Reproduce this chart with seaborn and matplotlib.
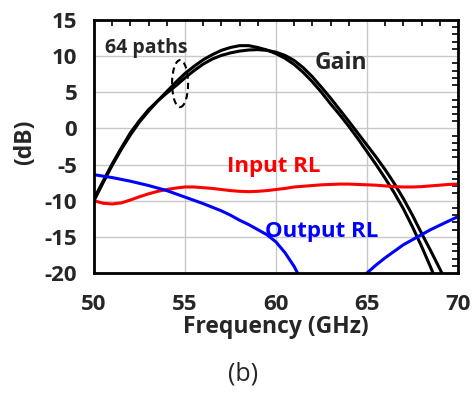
import numpy as np
import pandas as pd
import matplotlib
matplotlib.use('Agg')
import matplotlib.pyplot as plt
from matplotlib.patches import Ellipse
from matplotlib.ticker import MultipleLocator
import seaborn as sns

# frequency grid for the gain traces (GHz)
freq = [50, 50.5, 51, 51.5, 52, 52.5, 53, 53.5, 54, 54.5, 55, 55.5, 56, 56.5,
        57, 57.5, 58, 58.5, 59, 59.5, 60, 60.5, 61, 61.5, 62, 62.5, 63, 63.5,
        64, 64.5, 65, 65.5, 66, 66.5, 67, 67.5, 68, 68.5, 69, 69.5, 70]

# two gain traces standing in for the 64 paths (dB)
gain_a = [-10.0, -7.5, -5.1, -2.9, -0.9, 0.9, 2.4, 3.8, 5.1, 6.4, 7.6, 8.6,
          9.5, 10.2, 10.8, 11.2, 11.45, 11.45, 11.2, 10.85, 10.35, 9.7, 8.85,
          7.75, 6.45, 5.0, 3.4, 1.9, 0.3, -1.4, -3.2, -5.0, -6.9, -8.9, -11.1,
          -13.6, -16.3, -19.2, -22.3, -25.5, -28.8]
gain_b = [-9.7, -7.3, -4.9, -2.7, -0.6, 1.1, 2.6, 3.8, 4.9, 5.9, 7.0, 8.0,
          8.9, 9.6, 10.1, 10.45, 10.7, 10.85, 10.9, 10.8, 10.55, 10.1, 9.4,
          8.4, 7.15, 5.7, 4.2, 2.6, 1.0, -0.65, -2.3, -3.95, -5.7, -7.6, -9.7,
          -12.0, -14.5, -16.9, -19.4, -22.0, -24.6]

# input return loss (dB)
in_freq = [50, 50.5, 51, 51.5, 52, 52.5, 53, 53.5, 54, 54.5, 55, 55.5, 56,
           56.5, 57, 57.5, 58, 58.5, 59, 59.5, 60, 60.5, 61, 61.5, 62, 62.5,
           63, 63.5, 64, 64.5, 65, 65.5, 66, 66.5, 67, 67.5, 68, 68.5, 69,
           69.5, 70]
in_rl = [-10.0, -10.35, -10.45, -10.3, -9.9, -9.45, -9.05, -8.7, -8.45, -8.25,
         -8.1, -8.1, -8.2, -8.3, -8.45, -8.6, -8.7, -8.75, -8.7, -8.6, -8.45,
         -8.3, -8.1, -8.0, -7.9, -7.8, -7.75, -7.7, -7.7, -7.75, -7.8, -7.85,
         -7.95, -8.05, -8.1, -8.1, -8.05, -7.95, -7.85, -7.75, -7.7]

# output return loss (dB), two visible branches
out_freq_lo = [50, 50.5, 51, 51.5, 52, 52.5, 53, 53.5, 54, 54.5, 55, 55.5, 56,
               56.5, 57, 57.5, 58, 58.5, 59, 59.5, 60, 60.5, 61, 61.5]
out_rl_lo = [-6.4, -6.6, -6.8, -7.05, -7.3, -7.6, -7.9, -8.25, -8.6, -9.05,
             -9.5, -9.95, -10.4, -10.9, -11.4, -12.0, -12.7, -13.3, -14.0,
             -14.7, -15.7, -17.2, -19.1, -21.5]
out_freq_hi = [64.7, 65, 65.5, 66, 66.5, 67, 67.5, 68, 68.5, 69, 69.5, 70]
out_rl_hi = [-21.0, -20.0, -18.9, -17.9, -17.0, -16.1, -15.4, -14.7, -14.0,
             -13.4, -12.8, -12.2]

sns.set_style('white')
plt.rcParams['font.family'] = ['Open Sans', 'DejaVu Sans']
plt.rcParams['axes.unicode_minus'] = False

fig = plt.figure(figsize=(4.76, 4.0), dpi=100)
ax = fig.add_axes([0.1975, 0.3175, 0.7645, 0.6325])

df_gain = pd.DataFrame({'f': freq, 'a': gain_a, 'b': gain_b})
sns.lineplot(data=df_gain, x='f', y='a', color='black', lw=2.2, ax=ax)
sns.lineplot(data=df_gain, x='f', y='b', color='black', lw=2.2, ax=ax)
sns.lineplot(x=in_freq, y=in_rl, color='#ff0000', lw=2.2, ax=ax)
sns.lineplot(x=out_freq_lo, y=out_rl_lo, color='#0000ff', lw=2.2, ax=ax)
sns.lineplot(x=out_freq_hi, y=out_rl_hi, color='#0000ff', lw=2.2, ax=ax)

ax.set_xlim(50, 70)
ax.set_ylim(-20, 15)
ax.xaxis.set_major_locator(MultipleLocator(5))
ax.xaxis.set_minor_locator(MultipleLocator(1))
ax.yaxis.set_major_locator(MultipleLocator(5))
ax.yaxis.set_minor_locator(MultipleLocator(1))
ax.grid(True, which='major', color='#c8c8c8', lw=1.0)
ax.set_axisbelow(True)
ax.tick_params(which='both', direction='in', top=True, right=True, color='black')
ax.tick_params(which='major', length=0, width=1.2)
ax.tick_params(which='minor', length=4, width=1.2)
ax.tick_params(axis='x', which='major', pad=15, labelsize=16)
ax.tick_params(axis='y', which='major', pad=12, labelsize=16)
for lab in ax.get_xticklabels() + ax.get_yticklabels():
    lab.set_fontweight('bold')
for s in ax.spines.values():
    s.set_color('black')
    s.set_linewidth(2.0)

ax.set_xlabel('Frequency (GHz)', fontsize=16.5, fontweight='bold', labelpad=0)
ax.set_ylabel('(dB)', fontsize=16.5, fontweight='bold')
ax.yaxis.set_label_coords(-0.155, 0.518)

ax.text(50.6, 11.1, '64 paths', fontsize=14, fontweight='bold', va='center', ha='left')
ax.add_patch(Ellipse((54.73, 6.2), 0.88, 6.5, fill=False, ls=(0, (3, 2)), lw=1.5, color='black'))
ax.text(62.1, 9.05, 'Gain', fontsize=16.5, fontweight='bold', va='center', ha='left')
ax.text(57.3, -5.3, 'Input RL', fontsize=16, fontweight='bold', color='#ff0000', va='center', ha='left')
ax.text(59.4, -14.3, 'Output RL', fontsize=16, fontweight='bold', color='#0000ff', va='center', ha='left')

fig.text(243 / 476, 1 - 374 / 400, '(b)', fontsize=18, ha='center', va='center')

fig.savefig('out.png', dpi=100)
